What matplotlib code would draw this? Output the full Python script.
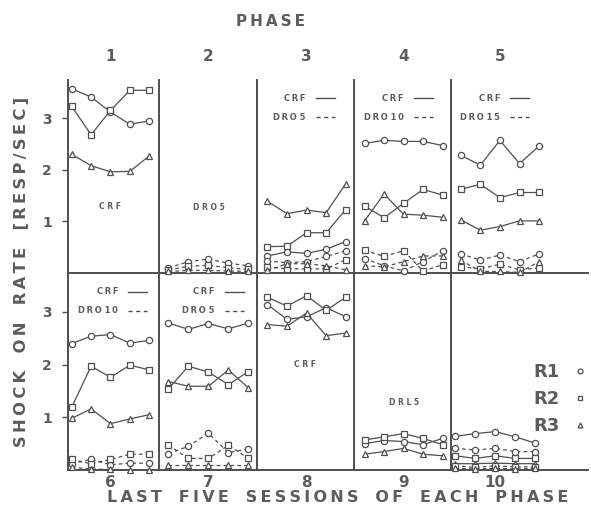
import matplotlib
matplotlib.use("Agg")
import matplotlib.pyplot as plt
from matplotlib.lines import Line2D

# ---------------------------------------------------------------------------
# Data: response rate (resp/sec) over the last five sessions of each phase.
# Each phase holds [R1, R2, R3]; "solid" = first component, "dashed" = second.
# ---------------------------------------------------------------------------
SESSIONS = [1, 2, 3, 4, 5]
RESPONSES = ["R1", "R2", "R3"]

ph1_crf = [[3.57, 3.41, 3.12, 2.88, 2.95],
           [3.23, 2.68, 3.15, 3.54, 3.54],
           [2.30, 2.08, 1.96, 1.97, 2.27]]
ph2_dro5 = [[0.10, 0.22, 0.27, 0.19, 0.14],
            [0.06, 0.13, 0.15, 0.10, 0.07],
            [0.03, 0.05, 0.05, 0.04, 0.03]]
ph3_crf = [[0.33, 0.41, 0.38, 0.46, 0.61],
           [0.51, 0.52, 0.78, 0.78, 1.23],
           [1.39, 1.15, 1.22, 1.17, 1.73]]
ph3_dro5 = [[0.23, 0.20, 0.22, 0.32, 0.43],
            [0.12, 0.08, 0.08, 0.08, 0.26],
            [0.05, 0.18, 0.18, 0.14, 0.06]]
ph4_crf = [[2.51, 2.57, 2.55, 2.55, 2.47],
           [1.30, 1.07, 1.35, 1.62, 1.51],
           [1.01, 1.53, 1.14, 1.12, 1.08]]
ph4_dro10 = [[0.28, 0.14, 0.04, 0.22, 0.43],
             [0.44, 0.32, 0.43, 0.04, 0.16],
             [0.14, 0.12, 0.22, 0.33, 0.33]]
ph5_crf = [[2.28, 2.09, 2.57, 2.12, 2.46],
           [1.62, 1.72, 1.46, 1.56, 1.56],
           [1.03, 0.83, 0.90, 1.01, 1.01]]
ph5_dro15 = [[0.37, 0.25, 0.35, 0.22, 0.37],
             [0.12, 0.08, 0.17, 0.06, 0.10],
             [0.25, 0.03, 0.03, 0.01, 0.22]]
ph6_crf = [[2.40, 2.54, 2.57, 2.41, 2.46],
           [1.19, 1.97, 1.76, 1.99, 1.90],
           [0.98, 1.16, 0.88, 0.97, 1.05]]
ph6_dro10 = [[0.12, 0.20, 0.10, 0.13, 0.13],
             [0.20, 0.12, 0.20, 0.30, 0.30],
             [0.05, 0.02, 0.01, 0.00, 0.00]]
ph7_crf = [[2.79, 2.67, 2.78, 2.68, 2.79],
           [1.54, 1.97, 1.86, 1.62, 1.87],
           [1.68, 1.59, 1.59, 1.90, 1.56]]
ph7_dro5 = [[0.31, 0.45, 0.70, 0.33, 0.40],
            [0.47, 0.22, 0.22, 0.47, 0.22],
            [0.10, 0.10, 0.10, 0.10, 0.10]]
ph8_crf = [[3.14, 2.86, 2.91, 3.08, 2.91],
           [3.28, 3.11, 3.31, 3.03, 3.28],
           [2.76, 2.73, 2.98, 2.55, 2.60]]
ph9_drl5 = [[0.50, 0.56, 0.54, 0.48, 0.60],
            [0.57, 0.63, 0.69, 0.60, 0.48],
            [0.30, 0.35, 0.41, 0.30, 0.27]]
ph10_drl5 = [[0.64, 0.69, 0.73, 0.63, 0.51],
             [0.27, 0.22, 0.27, 0.22, 0.22],
             [0.12, 0.12, 0.13, 0.12, 0.12]]
ph10_dro5 = [[0.41, 0.38, 0.41, 0.35, 0.35],
             [0.08, 0.05, 0.08, 0.06, 0.06],
             [0.03, 0.02, 0.03, 0.02, 0.03]]

# phase -> (solid data, solid name, dashed data, dashed name)
PHASES = {
    1: (ph1_crf, "CRF", None, None),
    2: (None, None, ph2_dro5, "DRO 5"),
    3: (ph3_crf, "CRF", ph3_dro5, "DRO 5"),
    4: (ph4_crf, "CRF", ph4_dro10, "DRO 10"),
    5: (ph5_crf, "CRF", ph5_dro15, "DRO 15"),
    6: (ph6_crf, "CRF", ph6_dro10, "DRO 10"),
    7: (ph7_crf, "CRF", ph7_dro5, "DRO 5"),
    8: (ph8_crf, "CRF", None, None),
    9: (ph9_drl5, "DRL 5", None, None),
    10: (ph10_drl5, "DRL 5", ph10_dro5, "DRO 5"),
}

# ---------------------------------------------------------------------------
# Layout (pixels of a 591 x 512 canvas)
# ---------------------------------------------------------------------------
W, H = 591, 512
COL_EDGES = [68, 159, 257, 354, 451, 588]
ROW_EDGES = [80, 273, 470]
XLIMS = [[(0.81, 5.50), (0.53, 5.43), (0.47, 5.42), (0.46, 5.43), (0.50, 7.50)],
         [(0.81, 5.50), (0.53, 5.43), (0.47, 5.42), (0.46, 5.43), (0.79, 7.64)]]
YLIM = (0, 3.74)
# where the "CRF ---" style keys end (data x) in phases that have two components
KEY_X = {3: 4.45, 4: 4.5, 5: 4.5, 6: 4.9, 7: 4.77, 10: 4.75}
# phase name written inside single-component panels: (x, y)
INNER_LABEL = {1: (3.0, 1.28), 2: (3.0, 1.26), 8: (2.9, 2.0), 9: (3.0, 1.28)}

INK = "#4f4f4f"
TEXT = "#5c5c5c"
MARKERS = ["o", "s", "^"]
THIN = "\u2009"

plt.rcParams["font.family"] = ["DejaVu Sans"]

fig = plt.figure(figsize=(W / 100, H / 100), dpi=100)


def spaced(s, gap=THIN, word_gap="   "):
    return word_gap.join(gap.join(w) for w in s.split())


def draw_series(ax, data, style):
    for vals, mk in zip(data, MARKERS):
        ax.plot(SESSIONS, vals, linestyle=style, dashes=(3, 2.5) if style == "--" else (None, None),
                color=INK, lw=0.9, marker=mk, ms=4.2 if mk != "o" else 4.5,
                mfc="white", mec=INK, mew=0.9, clip_on=False, zorder=3)


for phase, (solid, sname, dashed, dname) in PHASES.items():
    row, col = divmod(phase - 1, 5)
    left, right = COL_EDGES[col], COL_EDGES[col + 1]
    top, bottom = ROW_EDGES[row], ROW_EDGES[row + 1]
    ax = fig.add_axes([left / W, 1 - bottom / H, (right - left) / W, (bottom - top) / H])
    ax.set_xlim(*XLIMS[row][col])
    ax.set_ylim(*YLIM)
    ax.patch.set_alpha(0)
    for side in ("top", "right"):
        ax.spines[side].set_visible(False)
    for side in ("left", "bottom"):
        ax.spines[side].set_color(INK)
        ax.spines[side].set_linewidth(1.4)
    ax.set_xticks([])
    if col == 0:
        ax.set_yticks([1, 2, 3])
        ax.tick_params(axis="y", direction="out", length=4.5, width=1, color=INK,
                       labelsize=10, labelcolor=TEXT, pad=7)
        for t in ax.get_yticklabels():
            t.set_fontweight("bold")
    else:
        ax.set_yticks([])

    if solid is not None:
        draw_series(ax, solid, "-")
    if dashed is not None:
        draw_series(ax, dashed, "--")

    # phase number
    ax.text(3, 1.12 if row == 0 else -0.065, str(phase), transform=ax.get_xaxis_transform(),
            ha="center", va="center", fontsize=11, fontweight="bold", color=TEXT)

    if phase in INNER_LABEL:
        name = sname or dname
        x, y = INNER_LABEL[phase]
        ax.text(x, y, spaced(name, gap=" ", word_gap=" "), ha="center", va="center",
                fontsize=5.5, fontweight="bold", color=TEXT)

    if phase in KEY_X:
        handles = [Line2D([], [], color=INK, lw=1.0, ls="-"),
                   Line2D([], [], color=INK, lw=1.0, ls="--", dashes=(3, 2.5))]
        labels = [spaced(sname, word_gap=" "), spaced(dname, word_gap=" ")]
        ax.legend(handles, labels, loc="center right", bbox_to_anchor=(KEY_X[phase], 3.2),
                  bbox_transform=ax.transData, frameon=False, markerfirst=False,
                  handlelength=2.3, handletextpad=1.2, labelspacing=1.2,
                  borderpad=0, borderaxespad=0,
                  prop={"size": 6, "weight": "bold"}, labelcolor=TEXT)

    if phase == 10:
        r_handles = [Line2D([], [], ls="none", marker=mk, ms=3.5, mfc="white",
                            mec=INK, mew=0.9) for mk in MARKERS]
        ax.legend(r_handles, RESPONSES, loc="center right",
                  bbox_to_anchor=(589 / W, 1 - 399 / H), bbox_transform=fig.transFigure,
                  frameon=False, markerfirst=False, handlelength=1.0,
                  handletextpad=0.6, labelspacing=0.5, borderpad=0, borderaxespad=0,
                  prop={"size": 13, "weight": "bold"}, labelcolor=TEXT)

# titles
fig.text(270 / W, 1 - 22 / H, spaced("PHASE"), ha="center", va="center",
         fontsize=11, fontweight="bold", color=TEXT)
fig.text(338 / W, 1 - 498 / H, spaced("LAST FIVE SESSIONS OF EACH PHASE"),
         ha="center", va="center", fontsize=11.5, fontweight="bold", color=TEXT)
fig.text(22 / W, 1 - 272 / H, spaced("SHOCK ON RATE [RESP/SEC]"),
         ha="center", va="center", rotation=90, fontsize=11.8, fontweight="bold", color=TEXT)

fig.savefig("out.png", dpi=100)
